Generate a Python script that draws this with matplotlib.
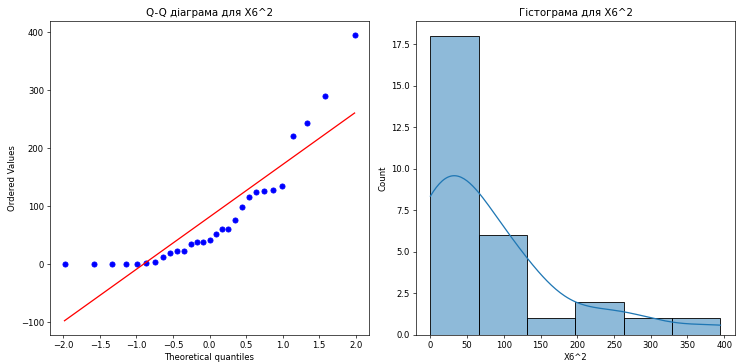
import numpy as np
import matplotlib
matplotlib.use("Agg")
import matplotlib.pyplot as plt
import seaborn as sns
from statistics import NormalDist

# X6^2 values (sorted)
x6_sq = [0, 0, 0, 1, 1, 2, 4, 13, 20, 23, 23, 35, 38, 38, 42, 52, 60, 61,
         76, 99, 115, 124, 126, 128, 134, 222, 243, 290, 395]
var_name = "X6^2"

data = np.sort(np.array(x6_sq, dtype=float))
n = len(data)

# Filliben order statistic medians (same as scipy.stats.probplot)
m = (np.arange(1, n + 1) - 0.3175) / (n + 0.365)
m[-1] = 0.5 ** (1.0 / n)
m[0] = 1 - m[-1]
osm = np.array([NormalDist().inv_cdf(p) for p in m])
slope, intercept = np.polyfit(osm, data, 1)

fig, (ax1, ax2) = plt.subplots(1, 2, figsize=(12, 364 / 61.4166), dpi=61.4166)
plt.subplots_adjust(left=50 / 737, right=735 / 737, top=1 - 21 / 364,
                    bottom=1 - 335 / 364, wspace=47 / 320)

ax1.plot(osm, data, 'bo')
ax1.plot(osm, slope * osm + intercept, 'r-')
ax1.set_title(f"Q-Q діаграма для {var_name}")
ax1.set_xlabel("Theoretical quantiles")
ax1.set_ylabel("Ordered Values")

sns.histplot(data, bins=6, kde=True, ax=ax2)
ax2.set_title(f"Гістограма для {var_name}")
ax2.set_xlabel(var_name)

fig.savefig("out.png", dpi=61.4166)
